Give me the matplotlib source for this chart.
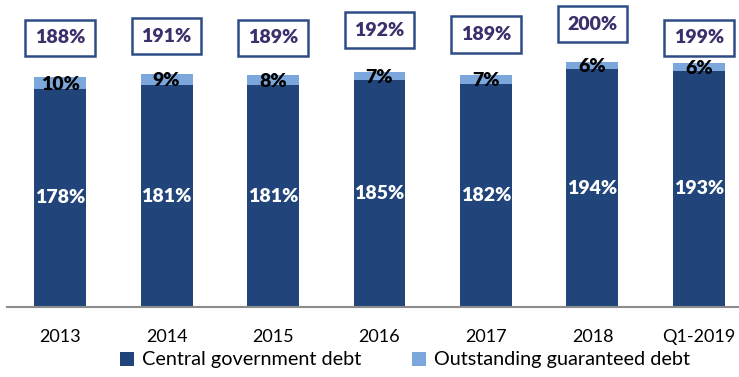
import matplotlib
matplotlib.use("Agg")
import matplotlib.pyplot as plt
from matplotlib.patches import Patch

# Data
categories = ["2013", "2014", "2015", "2016", "2017", "2018", "Q1-2019"]
central_debt = [178, 181, 181, 185, 182, 194, 193]
guaranteed_debt = [10, 9, 8, 7, 7, 6, 6]
total_debt = [188, 191, 189, 192, 189, 200, 199]

# Layout: height (data units) at which each total-label box sits
total_label_y = [219.6, 221.2, 219.6, 226.0, 222.4, 231.0, 219.6]

dark = "#21457A"
light = "#7BA7DC"
box_edge = "#2E4D86"
box_text = "#3C2F6B"

plt.rcParams["font.family"] = ["Lato", "DejaVu Sans"]

W, H = 739, 377
fig = plt.figure(figsize=(W / 100, H / 100), dpi=100)
ax = fig.add_axes([7 / W, (H - 307) / H, 732 / W, 307 / H])

x = list(range(len(categories)))
bw = 0.488
ax.bar(x, central_debt, width=bw, color=dark, zorder=2)
ax.bar(x, guaranteed_debt, width=bw, bottom=central_debt, color=light, zorder=2)

for i in x:
    ax.text(i, central_debt[i] / 2, f"{central_debt[i]}%", ha="center", va="center",
            color="white", fontsize=14, fontweight="heavy", zorder=3)
    ax.text(i, central_debt[i] + guaranteed_debt[i] / 2 - 1, f"{guaranteed_debt[i]}%",
            ha="center", va="center", color="black", fontsize=14, fontweight="heavy", zorder=3)
    ax.text(i, total_label_y[i], f"{total_debt[i]}%", ha="center", va="center",
            color=box_text, fontsize=14, fontweight="heavy", zorder=3,
            bbox=dict(boxstyle="square,pad=0.5", facecolor="white", edgecolor=box_edge, linewidth=1.8))

ax.set_xlim(-0.498, 6.376)
ax.set_ylim(0, 307 / 1.225)
ax.set_xticks(x)
ax.set_xticklabels(categories, fontsize=13)
ax.tick_params(axis="x", length=0, pad=16)
ax.set_yticks([])
for s in ["top", "right", "left"]:
    ax.spines[s].set_visible(False)
ax.spines["bottom"].set_color("#8C8C8C")
ax.spines["bottom"].set_linewidth(1.5)

handles = [Patch(facecolor=dark, label="Central government debt"),
           Patch(facecolor=light, label="Outstanding guaranteed debt")]
fig.legend(handles=handles, loc="center", bbox_to_anchor=(405 / W, 1 - 360 / H), ncol=2,
           frameon=False, fontsize=14.3, handlelength=0.7, handleheight=0.7,
           handletextpad=0.4, columnspacing=2.6)

fig.savefig("out.png", dpi=100)
